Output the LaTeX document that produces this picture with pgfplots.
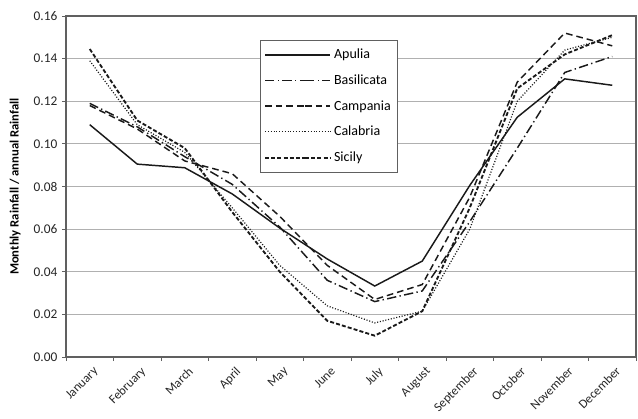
\documentclass[border=0pt]{standalone}
\usepackage{pgfplots}
\pgfplotsset{compat=1.18}
\usepackage{fontspec}
\setmainfont{Carlito}
\definecolor{gridgray}{HTML}{B0B0B0}
\definecolor{axgray}{HTML}{606060}
\definecolor{ln}{HTML}{1A1A1A}
\begin{document}
\begin{tikzpicture}
\useasboundingbox (-49.5pt,-45.75pt) rectangle (429pt,255.75pt+12pt);
\begin{axis}[
  scale only axis, width=427.5pt, height=255.75pt,
  xmin=0.5, xmax=12.5, ymin=0, ymax=0.16,
  xtick={1,...,12},
  xticklabels={January,February,March,April,May,June,July,August,September,October,November,December},
  minor xtick={0.5,1.5,...,12.5},
  ytick={0,0.02,...,0.16},
  yticklabel style={/pgf/number format/.cd, fixed, fixed zerofill, precision=2},
  /pgf/number format/assume math mode=true,
  tick align=outside,
  tick pos=left,
  major x tick style={draw=none},
  minor x tick style={axgray, line width=0.6pt},
  minor tick length=3pt,
  major tick length=3pt,
  y tick style={axgray, line width=0.6pt},
  ymajorgrids, grid style={gridgray, line width=0.6pt},
  axis line style={axgray, line width=0.9pt},
  tick label style={font=\fontsize{10}{11}\selectfont, text=black!85},
  xticklabel style={rotate=45, anchor=north east, inner sep=1pt, yshift=-3pt, font=\fontsize{9.5}{10}\selectfont},
  ylabel={\textbf{Monthly Rainfall / annual Rainfall}},
  ylabel style={font=\fontsize{9.5}{10}\selectfont, yshift=3pt},
  legend style={at={(0.34,0.93)}, anchor=north west, draw=axgray, line width=0.6pt,
    font=\fontsize{10.5}{11}\selectfont, inner xsep=3pt, inner ysep=4.5pt, row sep=6.5pt, legend cell align=left},
  legend image code/.code={\path (-30pt,0pt) -- (0pt,0pt); \draw[#1] (0pt,0pt) -- (19pt,0pt);},
  every axis plot/.append style={ln, line width=1.1pt, mark=none},
]
\addplot[solid] coordinates {(1,0.109) (2,0.0905) (3,0.0888) (4,0.0765) (5,0.0605) (6,0.0460) (7,0.0333) (8,0.0450) (9,0.0805) (10,0.1125) (11,0.1305) (12,0.1275)};
\addlegendentry{Apulia}
\addplot[dash pattern=on 7pt off 2.5pt on 1pt off 2.5pt] coordinates {(1,0.119) (2,0.108) (3,0.094) (4,0.081) (5,0.061) (6,0.036) (7,0.026) (8,0.031) (9,0.0635) (10,0.098) (11,0.1335) (12,0.141)};
\addlegendentry{Basilicata}
\addplot[dash pattern=on 5pt off 3pt] coordinates {(1,0.118) (2,0.107) (3,0.092) (4,0.086) (5,0.066) (6,0.043) (7,0.027) (8,0.034) (9,0.075) (10,0.129) (11,0.152) (12,0.146)};
\addlegendentry{Campania}
\addplot[line width=0.9pt, dash pattern=on 0.8pt off 1.3pt] coordinates {(1,0.139) (2,0.109) (3,0.096) (4,0.070) (5,0.043) (6,0.024) (7,0.016) (8,0.0215) (9,0.060) (10,0.120) (11,0.144) (12,0.150)};
\addlegendentry{Calabria}
\addplot[line width=1.4pt, dash pattern=on 3pt off 1.6pt] coordinates {(1,0.1445) (2,0.111) (3,0.098) (4,0.068) (5,0.040) (6,0.017) (7,0.010) (8,0.0215) (9,0.070) (10,0.126) (11,0.142) (12,0.151)};
\addlegendentry{Sicily}
\end{axis}
\end{tikzpicture}
\end{document}
